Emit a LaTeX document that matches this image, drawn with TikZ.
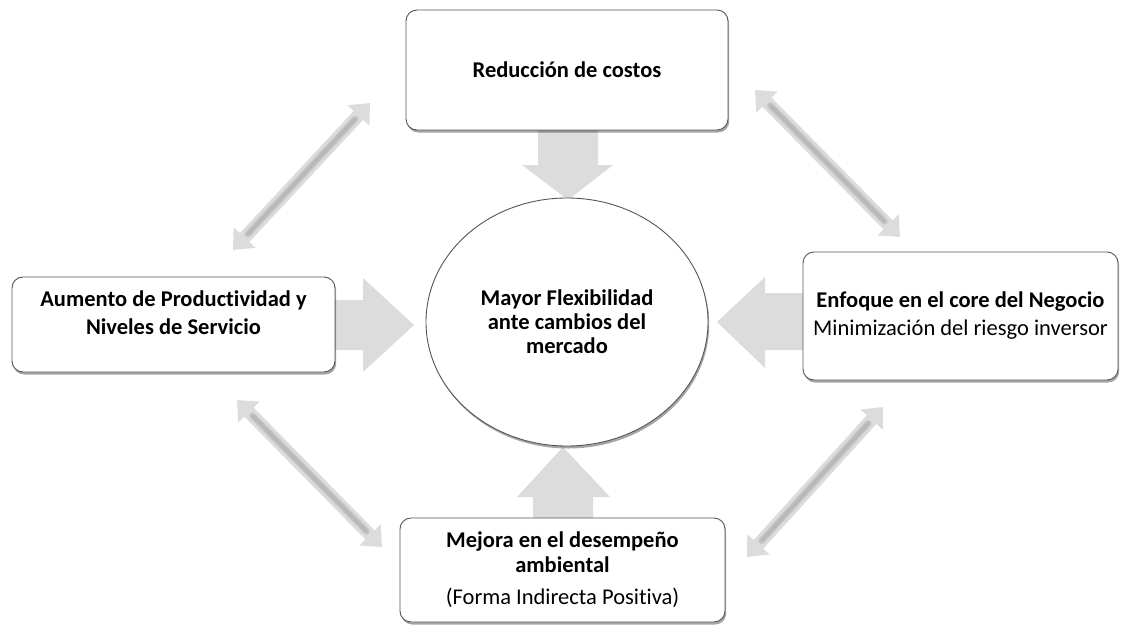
\documentclass[tikz,border=0pt]{standalone}
\usepackage{fontspec}
\setmainfont{Carlito}[Ligatures=NoCommon]
\usetikzlibrary{shapes.geometric,arrows.meta,shadows,calc}

\definecolor{boxline}{HTML}{555555}
\definecolor{arrowfill}{HTML}{DCDCDC}
\definecolor{arrowdark}{HTML}{9A9A9A}

\tikzset{
  card/.style={draw=boxline, line width=0.9pt, fill=white, rounded corners=11pt,
    align=center, inner sep=4pt, font=\fontsize{22.5}{28}\selectfont,
    drop shadow={shadow xshift=1.2pt, shadow yshift=-2.5pt, opacity=0.35, fill=black}},
  hub/.style={ellipse, draw=boxline, line width=0.9pt, fill=white, align=center,
    font=\fontsize{22.5}{24}\selectfont\bfseries,
    drop shadow={shadow xshift=1.2pt, shadow yshift=-2.5pt, opacity=0.35, fill=black}},
  blockarrow/.style={fill=arrowfill, draw=none},
  twoway/.style={draw=arrowfill, line width=13pt,
    {Triangle[width=29pt,length=17pt]}-{Triangle[width=29pt,length=17pt]}},
  bevel/.style={draw=arrowdark, opacity=0.22, line cap=round,
    shorten >=22pt, shorten <=22pt},
}
% soft shaded edge along one side of a two-way arrow
\newcommand\softedge[3]{%
  \draw[bevel, line width=7pt, shift={#3}] (#1) -- (#2);
  \draw[bevel, line width=5pt, shift={#3}] (#1) -- (#2);
  \draw[bevel, line width=3pt, shift={#3}] (#1) -- (#2);
}

\begin{document}
\begin{tikzpicture}[x=1pt,y=-1pt]
\useasboundingbox (0,0) rectangle (1124,624);

% straight block arrows pointing at the hub
\fill[blockarrow] (538,128) -- (598,128) -- (598,165) -- (613,165) -- (568,200)
  -- (522,165) -- (538,165) -- cycle;
\fill[blockarrow] (333,300) -- (363,300) -- (363,278) -- (414,325) -- (363,372)
  -- (363,350) -- (333,350) -- cycle;
\fill[blockarrow] (805,293) -- (765,293) -- (765,277) -- (717,322) -- (765,368)
  -- (765,350) -- (805,350) -- cycle;
\fill[blockarrow] (533,520) -- (593,520) -- (593,497) -- (610,497) -- (563,447)
  -- (517,497) -- (533,497) -- cycle;

% boxes and hub
\node[card, minimum width=322pt, minimum height=120pt] (cost) at (567,70)
  {\textbf{Reducción de costos}};
\node[card, minimum width=323pt, minimum height=95pt] (prod) at (173.5,324.5)
  {\textbf{Aumento de Productividad y}\\ \textbf{Niveles de Servicio}\\[-12pt]\strut};
\node[card, minimum width=315pt, minimum height=128pt] (core) at (960.5,316)
  {\textbf{Enfoque en el core del Negocio}\\ Minimización del riesgo inversor};
\node[card, minimum width=325pt, minimum height=104pt, font=\fontsize{22.5}{25}\selectfont]
  (env) at (562.5,570)
  {\textbf{Mejora en el desempeño}\\ \textbf{ambiental}\\[7pt] (Forma Indirecta Positiva)};
\node[hub, minimum width=282pt, minimum height=248pt, inner sep=0pt] (hub) at (567,322)
  {Mayor Flexibilidad\\ ante cambios del\\ mercado};

% two-way arrows between neighbouring boxes
\coordinate (tlA) at (233,250); \coordinate (tlB) at (370,103);
\coordinate (trA) at (755,90);  \coordinate (trB) at (900,237);
\coordinate (blA) at (237,400); \coordinate (blB) at (382,547);
\coordinate (brA) at (883,407); \coordinate (brB) at (747,557);

\draw[twoway] (tlA) -- (tlB);
\softedge{tlA}{tlB}{(-3.4,-3.2)}
\draw[twoway] (trA) -- (trB);
\softedge{trA}{trB}{(3.3,-3.3)}
\draw[twoway] (blA) -- (blB);
\softedge{blA}{blB}{(3.3,-3.3)}
\draw[twoway] (brA) -- (brB);
\softedge{brA}{brB}{(-3.4,-3.1)}
\end{tikzpicture}
\end{document}
